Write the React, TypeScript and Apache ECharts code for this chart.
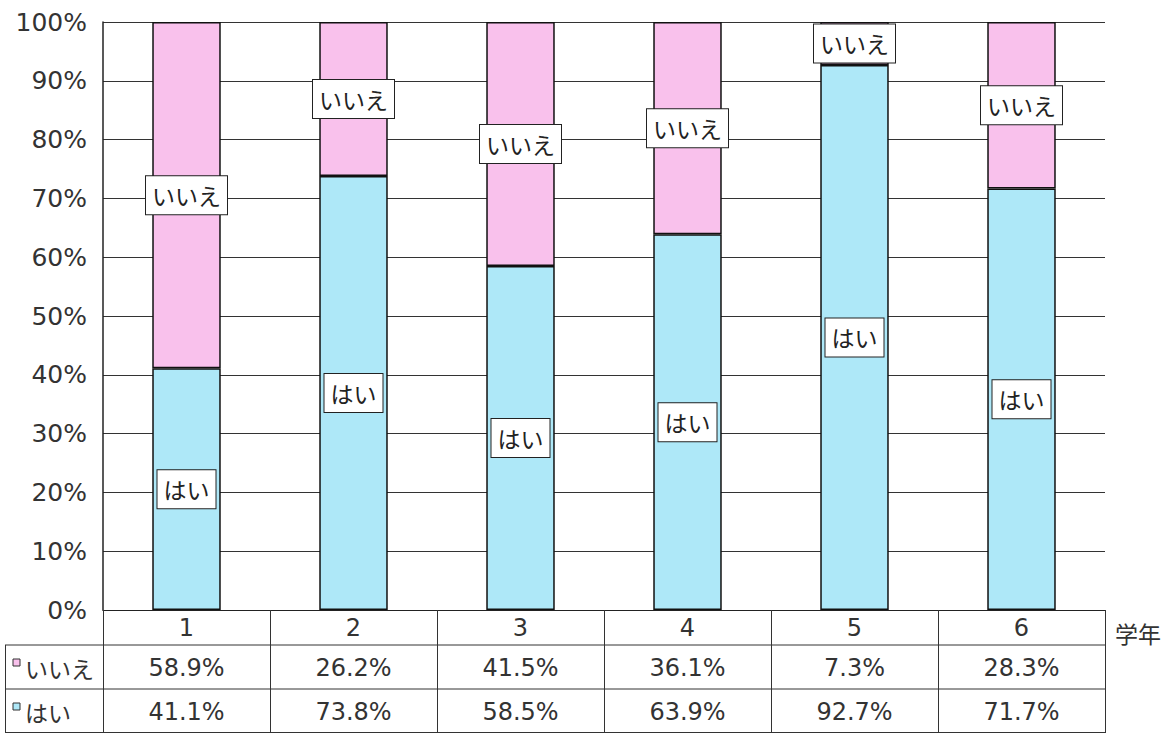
import React, { useEffect, useRef } from "react";
import * as echarts from "echarts";

const categories = ["1", "2", "3", "4", "5", "6"];
const noValues = [58.9, 26.2, 41.5, 36.1, 7.3, 28.3];
const yesValues = [41.1, 73.8, 58.5, 63.9, 92.7, 71.7];
const seriesNames = ["はい", "いいえ"];
const axisName = "学年";

const W = 1170;
const H = 733;
const GL = 103;
const GR = 1105;
const GT = 22;
const GB = 610;
const FONT = "'DejaVu Sans', 'Noto Sans CJK JP', sans-serif";
const KFONT = "'Noto Sans CJK JP', sans-serif";
const PINK = "#F9C1EC";
const BLUE = "#AEE8F8";
const TXT = "#333";

export default function App() {
  const ref = useRef<HTMLDivElement>(null);
  useEffect(() => {
    document.body.style.margin = "0";
    const chart = echarts.init(ref.current!, undefined, { renderer: "svg" });
    const colW = (GR - GL) / categories.length;
    const rowNoY = 668;
    const rowYesY = 712;
    const graphics: any[] = [];
    const ln = (x1: number, y1: number, x2: number, y2: number) =>
      graphics.push({ type: "line", shape: { x1, y1, x2, y2 }, style: { stroke: "#333", lineWidth: 1 } });
    ln(5, 645, GR, 645);
    ln(5, 689, GR, 689);
    ln(5, 732.5, GR, 732.5);
    ln(5.5, 645, 5.5, 733);
    // legend column
    graphics.push({ type: "rect", shape: { x: 13, y: 659, width: 7, height: 7 }, style: { fill: PINK, stroke: "#333", lineWidth: 1 } });
    graphics.push({ type: "text", x: 25, y: rowNoY, style: { text: seriesNames[1], font: `23px ${KFONT}`, fill: TXT, verticalAlign: "middle" } });
    graphics.push({ type: "rect", shape: { x: 13, y: 703, width: 7, height: 7 }, style: { fill: BLUE, stroke: "#333", lineWidth: 1 } });
    graphics.push({ type: "text", x: 25, y: rowYesY, style: { text: seriesNames[0], font: `23px ${KFONT}`, fill: TXT, verticalAlign: "middle" } });
    categories.forEach((c, i) => {
      const cx = GL + colW * (i + 0.5);
      graphics.push({ type: "text", x: cx, y: rowNoY, style: { text: noValues[i].toFixed(1) + "%", font: `24px ${FONT}`, fill: TXT, align: "center", verticalAlign: "middle" } });
      graphics.push({ type: "text", x: cx, y: rowYesY, style: { text: yesValues[i].toFixed(1) + "%", font: `24px ${FONT}`, fill: TXT, align: "center", verticalAlign: "middle" } });
    });
    graphics.push({ type: "text", x: 1115, y: 633, style: { text: axisName, font: `23px ${KFONT}`, fill: TXT, verticalAlign: "middle" } });

    const label = {
      show: true,
      position: "inside",
      formatter: "{a}",
      backgroundColor: "#fff",
      borderColor: "#222",
      borderWidth: 1,
      padding: [6, 6, 6, 6],
      lineHeight: 26,
      fontSize: 23,
      fontFamily: KFONT,
      color: "#222",
    };
    chart.setOption({
      animation: false,
      textStyle: { fontFamily: FONT },
      grid: { left: GL, right: W - GR, top: GT, bottom: H - GB },
      xAxis: {
        type: "category",
        data: categories,
        axisLine: { show: true, lineStyle: { color: "#222", width: 1 } },
        axisTick: { show: true, length: 123, lineStyle: { color: "#333", width: 1 } },
        axisLabel: { fontSize: 24, color: TXT, margin: 6, fontFamily: FONT },
        splitLine: { show: false },
      },
      yAxis: {
        type: "value",
        min: 0,
        max: 100,
        interval: 10,
        axisLine: { show: true, lineStyle: { color: "#222", width: 1.5 } },
        axisTick: { show: false },
        axisLabel: { formatter: "{value}%", fontSize: 25, color: TXT, margin: 16, fontFamily: FONT },
        splitLine: { show: true, lineStyle: { color: "#333", width: 1 } },
      },
      series: [
        {
          name: seriesNames[0],
          type: "bar",
          stack: "s",
          data: yesValues,
          barWidth: "41%",
          itemStyle: { color: BLUE, borderColor: "#111", borderWidth: 1.5 },
          label,
        },
        {
          name: seriesNames[1],
          type: "bar",
          stack: "s",
          data: noValues,
          barWidth: "41%",
          itemStyle: { color: PINK, borderColor: "#111", borderWidth: 1.5 },
          label,
        },
      ],
      graphic: graphics,
    });
    return () => chart.dispose();
  }, []);
  return <div ref={ref} style={{ width: W, height: H }} />;
}
